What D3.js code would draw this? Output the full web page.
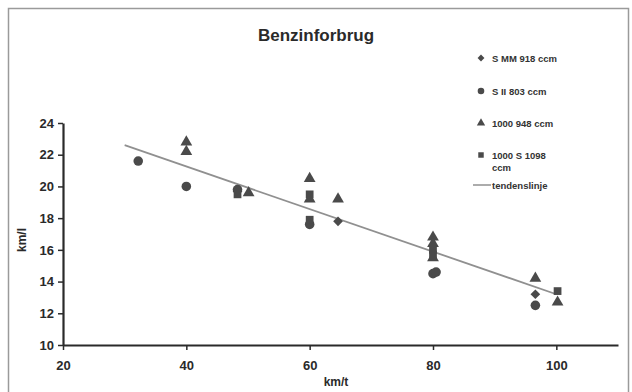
<!DOCTYPE html>
<html><head><meta charset="utf-8">
<script src="https://cdn.jsdelivr.net/npm/d3@7"></script>
<style>body{margin:0;background:#fff}svg{display:block}</style>
</head><body>
<svg id="c" width="632" height="392"></svg>
<script>
const xTicks = [20, 40, 60, 80, 100];
const yTicks = [10, 12, 14, 16, 18, 20, 22, 24];
const seriesNames = ["S MM 918 ccm", "S II 803 ccm", "1000 948 ccm", "1000 S 1098 ccm"];
const seriesShapes = ["diamond", "circle", "triangle", "square"];
// points: [km/t, km/l]
const smm918 = [[48.3, 19.7], [64.6, 17.8], [96.6, 13.2]];
const sii803 = [[32.2, 21.6], [40, 20.0], [48.3, 19.8], [60, 17.6], [80, 14.5], [80.5, 14.6], [96.6, 12.5]];
const t1000_948 = [[40, 22.8], [40, 22.2], [50.1, 19.6], [60, 20.5], [60, 19.2], [64.6, 19.2], [80, 16.8], [80, 16.4], [80, 15.5], [96.6, 14.2], [100.2, 12.7]];
const s1000_1098 = [[48.3, 19.5], [60, 19.5], [60, 17.9], [80, 16.0], [80, 15.7], [100.2, 13.4]];
const trendX = [30, 100];
const trendY = [22.6, 13.2];

const series = [smm918, sii803, t1000_948, s1000_1098];
const svg = d3.select("#c");
svg.append("rect").attr("x", 8.5).attr("y", 8.5).attr("width", 620).attr("height", 400)
  .attr("fill", "#fff").attr("stroke", "#9a9a9a").attr("stroke-width", 1.5);

const x = d3.scaleLinear().domain([20, 110]).range([63, 618]);
const y = d3.scaleLinear().domain([10, 24]).range([345, 123]);
const font = "Arial, 'Liberation Sans', sans-serif";
const ink = "#2a2a2a";

svg.append("text").attr("x", 316).attr("y", 41).attr("text-anchor", "middle")
  .attr("font-family", font).attr("font-weight", "bold").attr("font-size", 17).attr("fill", ink)
  .text("Benzinforbrug");

const xAxis = svg.append("g").attr("transform", `translate(0,${y(10)})`)
  .call(d3.axisBottom(x).tickValues(xTicks).tickSize(5).tickPadding(11).tickSizeOuter(0));
const yAxis = svg.append("g").attr("transform", `translate(${x(20)},0)`)
  .call(d3.axisLeft(y).tickValues(yTicks).tickSize(5).tickPadding(4).tickSizeOuter(0));
[xAxis, yAxis].forEach(g => {
  g.select(".domain").attr("stroke", ink).attr("stroke-width", 2.2);
  g.selectAll(".tick line").attr("stroke", ink).attr("stroke-width", 1.5);
  g.selectAll(".tick text").attr("font-family", font).attr("font-weight", "bold")
    .attr("font-size", 13).attr("fill", ink);
});

svg.append("text").attr("transform", `translate(26,240) rotate(-90)`).attr("text-anchor", "middle")
  .attr("font-family", font).attr("font-weight", "bold").attr("font-size", 12).attr("fill", ink).text("km/l");
svg.append("text").attr("x", 336).attr("y", 386).attr("text-anchor", "middle")
  .attr("font-family", font).attr("font-weight", "bold").attr("font-size", 12).attr("fill", ink).text("km/t");

// trend line
svg.append("line").attr("x1", x(trendX[0])).attr("y1", y(trendY[0]))
  .attr("x2", x(trendX[1])).attr("y2", y(trendY[1]))
  .attr("stroke", "#909090").attr("stroke-width", 1.8);

const sym = {
  diamond: d3.symbol().type(d3.symbolDiamond2).size(60),
  circle: d3.symbol().type(d3.symbolCircle).size(72),
  triangle: d3.symbol().type(d3.symbolTriangle).size(60),
  square: d3.symbol().type(d3.symbolSquare).size(60)
};
const markColor = "#4a4a4a";
series.forEach((data, i) => {
  svg.append("g").selectAll("path").data(data).join("path")
    .attr("d", sym[seriesShapes[i]])
    .attr("transform", d => `translate(${x(d[0])},${y(d[1])})`)
    .attr("fill", markColor);
});

// legend
const legY = [58, 91, 123, 155];
const small = {
  diamond: d3.symbol().type(d3.symbolDiamond2).size(30),
  circle: d3.symbol().type(d3.symbolCircle).size(34),
  triangle: d3.symbol().type(d3.symbolTriangle).size(30),
  square: d3.symbol().type(d3.symbolSquare).size(30)
};
seriesNames.forEach((n, i) => {
  svg.append("path").attr("d", small[seriesShapes[i]])
    .attr("transform", `translate(481,${legY[i]})`).attr("fill", markColor);
  const t = svg.append("text").attr("x", 492).attr("y", legY[i] + 3.5)
    .attr("font-family", font).attr("font-weight", "bold").attr("font-size", 9.5).attr("fill", "#333");
  if (i === 3) {
    t.append("tspan").attr("x", 492).text("1000 S 1098");
    t.append("tspan").attr("x", 492).attr("dy", 12).text("ccm");
  } else t.text(n);
});
svg.append("line").attr("x1", 473).attr("x2", 491).attr("y1", 185).attr("y2", 185)
  .attr("stroke", "#909090").attr("stroke-width", 1.5);
svg.append("text").attr("x", 492).attr("y", 188.5)
  .attr("font-family", font).attr("font-weight", "bold").attr("font-size", 9.5).attr("fill", "#333").text("tendenslinje");
</script>
</body></html>
